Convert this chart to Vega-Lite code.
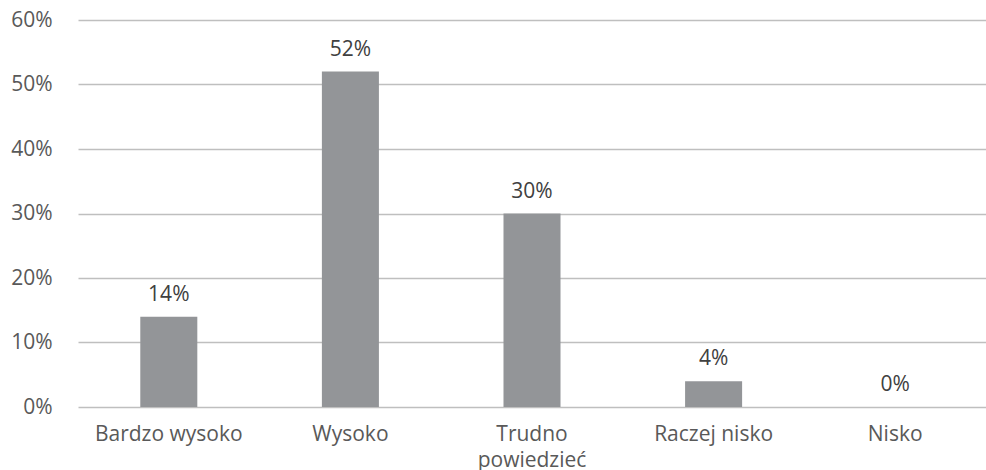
{
  "$schema": "https://vega.github.io/schema/vega-lite/v6.json",
  "width": 908,
  "height": 387,
  "autosize": {"type": "none"},
  "padding": {"left": 78, "top": 20, "right": 0, "bottom": 63},
  "background": "white",
  "config": {"view": {"stroke": null}, "font": "Open Sans"},
  "data": {
    "values": [
      {"kategoria": "Bardzo wysoko", "wartosc": 0.14},
      {"kategoria": "Wysoko", "wartosc": 0.52},
      {"kategoria": "Trudno powiedzieć", "wartosc": 0.30},
      {"kategoria": "Raczej nisko", "wartosc": 0.04},
      {"kategoria": "Nisko", "wartosc": 0.0}
    ]
  },
  "encoding": {
    "x": {
      "field": "kategoria",
      "type": "nominal",
      "sort": null,
      "scale": {"paddingInner": 0.686, "paddingOuter": 0.343},
      "axis": {
        "title": null,
        "labelAngle": 0,
        "domain": false,
        "ticks": false,
        "labelFont": "Open Sans",
        "labelFontSize": 21,
        "labelColor": "#595959",
        "labelPadding": 16,
        "labelLineHeight": 26,
        "labelLimit": 220,
        "labelExpr": "datum.label == 'Trudno powiedzieć' ? ['Trudno', 'powiedzieć'] : datum.label"
      }
    },
    "y": {
      "field": "wartosc",
      "type": "quantitative",
      "scale": {"domain": [0, 0.6]},
      "axis": {
        "title": null,
        "format": ".0%",
        "values": [0, 0.1, 0.2, 0.3, 0.4, 0.5, 0.6],
        "domain": false,
        "ticks": false,
        "grid": true,
        "gridColor": "#bfbfbf",
        "gridWidth": 1.5,
        "labelFont": "Open Sans",
        "labelFontSize": 21,
        "labelColor": "#595959",
        "labelPadding": 26
      }
    }
  },
  "layer": [
    {"mark": {"type": "bar", "color": "#939598"}},
    {
      "mark": {"type": "text", "baseline": "alphabetic", "dy": -16, "font": "Open Sans", "fontSize": 21, "color": "#404040"},
      "encoding": {"text": {"field": "wartosc", "type": "quantitative", "format": ".0%"}}
    }
  ]
}
